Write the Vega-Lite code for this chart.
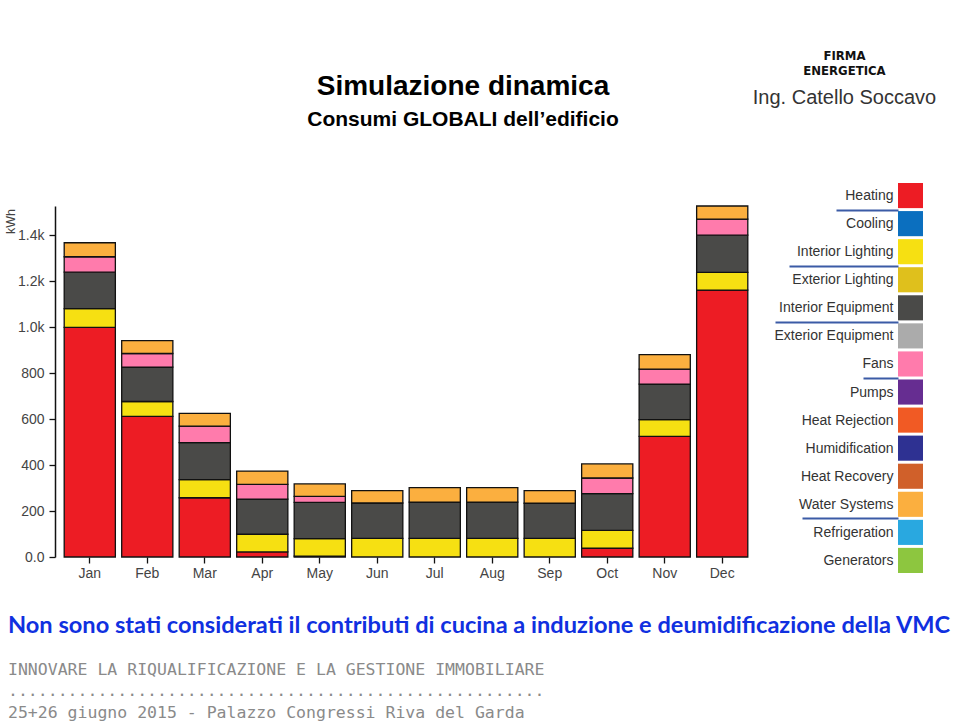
{
  "$schema": "https://vega.github.io/schema/vega-lite/v6.json",
  "background": "white",
  "padding": {"left": 4, "top": 50, "right": 5, "bottom": 5},
  "config": {
    "view": {"stroke": null},
    "font": "Liberation Sans",
    "axis": {"grid": false}
  },
  "title": {
    "text": "Non sono stati considerati il contributi di cucina a induzione e deumidificazione della VMC",
    "subtitle": ["INNOVARE LA RIQUALIFICAZIONE E LA GESTIONE IMMOBILIARE", "......................................................", "25+26 giugno 2015 - Palazzo Congressi Riva del Garda"],
    "orient": "bottom",
    "anchor": "start",
    "frame": "bounds",
    "dx": 4,
    "offset": 34,
    "font": "Lato",
    "fontSize": 23.6,
    "fontWeight": "bold",
    "color": "#1030E0",
    "subtitleFont": "DejaVu Sans Mono",
    "subtitleFontSize": 16.5,
    "subtitleColor": "#8a8a8a",
    "subtitleLineHeight": 21.5,
    "subtitlePadding": 24
  },
  "datasets": {
    "energy": [
      {"month": "Jan", "category": "Heating", "kwh": 1000},
      {"month": "Jan", "category": "Interior Lighting", "kwh": 81},
      {"month": "Jan", "category": "Interior Equipment", "kwh": 159},
      {"month": "Jan", "category": "Fans", "kwh": 67},
      {"month": "Jan", "category": "Water Systems", "kwh": 61},
      {"month": "Feb", "category": "Heating", "kwh": 612},
      {"month": "Feb", "category": "Interior Lighting", "kwh": 65},
      {"month": "Feb", "category": "Interior Equipment", "kwh": 150},
      {"month": "Feb", "category": "Fans", "kwh": 59},
      {"month": "Feb", "category": "Water Systems", "kwh": 56},
      {"month": "Mar", "category": "Heating", "kwh": 258},
      {"month": "Mar", "category": "Interior Lighting", "kwh": 79},
      {"month": "Mar", "category": "Interior Equipment", "kwh": 161},
      {"month": "Mar", "category": "Fans", "kwh": 72},
      {"month": "Mar", "category": "Water Systems", "kwh": 55},
      {"month": "Apr", "category": "Heating", "kwh": 22},
      {"month": "Apr", "category": "Interior Lighting", "kwh": 77},
      {"month": "Apr", "category": "Interior Equipment", "kwh": 153},
      {"month": "Apr", "category": "Fans", "kwh": 64},
      {"month": "Apr", "category": "Water Systems", "kwh": 58},
      {"month": "May", "category": "Heating", "kwh": 4},
      {"month": "May", "category": "Interior Lighting", "kwh": 76},
      {"month": "May", "category": "Interior Equipment", "kwh": 158},
      {"month": "May", "category": "Fans", "kwh": 26},
      {"month": "May", "category": "Water Systems", "kwh": 54},
      {"month": "Jun", "category": "Interior Lighting", "kwh": 81},
      {"month": "Jun", "category": "Interior Equipment", "kwh": 154},
      {"month": "Jun", "category": "Water Systems", "kwh": 54},
      {"month": "Jul", "category": "Interior Lighting", "kwh": 81},
      {"month": "Jul", "category": "Interior Equipment", "kwh": 158},
      {"month": "Jul", "category": "Water Systems", "kwh": 63},
      {"month": "Aug", "category": "Interior Lighting", "kwh": 81},
      {"month": "Aug", "category": "Interior Equipment", "kwh": 158},
      {"month": "Aug", "category": "Water Systems", "kwh": 63},
      {"month": "Sep", "category": "Interior Lighting", "kwh": 81},
      {"month": "Sep", "category": "Interior Equipment", "kwh": 153},
      {"month": "Sep", "category": "Water Systems", "kwh": 55},
      {"month": "Oct", "category": "Heating", "kwh": 38},
      {"month": "Oct", "category": "Interior Lighting", "kwh": 78},
      {"month": "Oct", "category": "Interior Equipment", "kwh": 160},
      {"month": "Oct", "category": "Fans", "kwh": 68},
      {"month": "Oct", "category": "Water Systems", "kwh": 61},
      {"month": "Nov", "category": "Heating", "kwh": 525},
      {"month": "Nov", "category": "Interior Lighting", "kwh": 73},
      {"month": "Nov", "category": "Interior Equipment", "kwh": 155},
      {"month": "Nov", "category": "Fans", "kwh": 65},
      {"month": "Nov", "category": "Water Systems", "kwh": 63},
      {"month": "Dec", "category": "Heating", "kwh": 1162},
      {"month": "Dec", "category": "Interior Lighting", "kwh": 77},
      {"month": "Dec", "category": "Interior Equipment", "kwh": 162},
      {"month": "Dec", "category": "Fans", "kwh": 70},
      {"month": "Dec", "category": "Water Systems", "kwh": 57}
    ],
    "cats": [
      {"category": "Heating"},
      {"category": "Cooling"},
      {"category": "Interior Lighting"},
      {"category": "Exterior Lighting"},
      {"category": "Interior Equipment"},
      {"category": "Exterior Equipment"},
      {"category": "Fans"},
      {"category": "Pumps"},
      {"category": "Heat Rejection"},
      {"category": "Humidification"},
      {"category": "Heat Recovery"},
      {"category": "Water Systems"},
      {"category": "Refrigeration"},
      {"category": "Generators"}
    ]
  },
  "spacing": -5,
  "hconcat": [
    {
      "width": 702,
      "height": 374,
      "title": {
        "text": "Simulazione dinamica",
        "subtitle": "Consumi GLOBALI dell’edificio",
        "anchor": "middle",
        "frame": "group",
        "dx": 57,
        "offset": 53,
        "font": "Liberation Sans",
        "fontSize": 28,
        "fontWeight": "bold",
        "color": "#000000",
        "subtitleFont": "Liberation Sans",
        "subtitleFontSize": 21,
        "subtitleFontWeight": "bold",
        "subtitleColor": "#000000",
        "subtitlePadding": 8
      },
      "data": {"name": "energy"},
      "transform": [
        {"calculate": "indexof(['Heating','Cooling','Interior Lighting','Exterior Lighting','Interior Equipment','Exterior Equipment','Fans','Pumps','Heat Rejection','Humidification','Heat Recovery','Water Systems','Refrigeration','Generators'], datum.category)", "as": "ord"}
      ],
      "mark": {"type": "bar", "stroke": "#111111", "strokeWidth": 1.3},
      "encoding": {
        "x": {
          "field": "month",
          "type": "nominal",
          "sort": null,
          "scale": {"paddingInner": 0.11, "paddingOuter": 0.16},
          "axis": {
            "title": null,
            "labelAngle": 0,
            "domain": false,
            "tickSize": 6,
            "tickColor": "#111111",
            "tickWidth": 1.3,
            "labelPadding": 3,
            "labelFontSize": 14,
            "labelColor": "#444444"
          }
        },
        "y": {
          "field": "kwh",
          "type": "quantitative",
          "stack": "zero",
          "scale": {"domain": [0, 1528], "range": [374, 23], "nice": false, "zero": true},
          "axis": {
            "values": [0, 200, 400, 600, 800, 1000, 1200, 1400],
            "labelExpr": "datum.value == 0 ? '0.0' : (datum.value >= 1000 ? format(datum.value / 1000, '.1f') + 'k' : format(datum.value, 'd'))",
            "title": "kWh",
            "titleFontSize": 12.5,
            "titleFontWeight": "normal",
            "titleColor": "#444444",
            "titleAngle": 270,
            "titleAlign": "center",
            "titleBaseline": "bottom",
            "titleX": -38,
            "titleY": 38,
            "domainColor": "#111111",
            "domainWidth": 1.5,
            "tickColor": "#111111",
            "tickWidth": 1.3,
            "tickSize": 6,
            "labelPadding": 5,
            "labelFontSize": 14,
            "labelColor": "#444444"
          }
        },
        "color": {
          "field": "category",
          "type": "nominal",
          "scale": {
            "domain": ["Heating", "Cooling", "Interior Lighting", "Exterior Lighting", "Interior Equipment", "Exterior Equipment", "Fans", "Pumps", "Heat Rejection", "Humidification", "Heat Recovery", "Water Systems", "Refrigeration", "Generators"],
            "range": ["#ED1C24", "#0B6FBF", "#F6E012", "#DFC01C", "#4A4A48", "#ABABAB", "#FF7BAC", "#662D91", "#F15A24", "#2E3192", "#D0602A", "#FBAF3F", "#29A8E0", "#8DC63F"]
          },
          "legend": null
        },
        "order": {"field": "ord", "type": "quantitative", "sort": "ascending"}
      }
    },
    {
      "width": 25,
      "height": 390,
      "title": {
        "text": ["FIRMA", "ENERGETICA"],
        "subtitle": "Ing. Catello Soccavo",
        "anchor": "middle",
        "frame": "group",
        "dx": -66,
        "offset": 75,
        "font": "DejaVu Sans Condensed",
        "fontSize": 13,
        "fontWeight": "bold",
        "lineHeight": 15,
        "color": "#111111",
        "subtitleFont": "Liberation Sans",
        "subtitleFontSize": 20,
        "subtitleColor": "#333333",
        "subtitlePadding": 10
      },
      "data": {"name": "cats"},
      "mark": {"type": "rect"},
      "encoding": {
        "y": {
          "field": "category",
          "type": "nominal",
          "sort": null,
          "scale": {"paddingInner": 0.105, "paddingOuter": 0},
          "axis": {
            "title": null,
            "domain": false,
            "ticks": true,
            "tickColor": "#3B5BA6",
            "tickWidth": 2,
            "tickOffset": 14,
            "labelOffset": -14,
            "tickSize": {"expr": "datum.value === 'Heating' ? 62 : datum.value === 'Interior Lighting' ? 109 : datum.value === 'Interior Equipment' ? 123 : datum.value === 'Fans' ? 35 : datum.value === 'Water Systems' ? 96 : 0"},
            "labelPadding": {"expr": "datum.value === 'Heating' ? -57 : datum.value === 'Interior Lighting' ? -104 : datum.value === 'Interior Equipment' ? -118 : datum.value === 'Fans' ? -30 : datum.value === 'Water Systems' ? -91 : 5"},
            "labelFontSize": 14,
            "labelColor": "#333333",
            "labelLimit": 0
          }
        },
        "color": {
          "field": "category",
          "type": "nominal",
          "scale": {
            "domain": ["Heating", "Cooling", "Interior Lighting", "Exterior Lighting", "Interior Equipment", "Exterior Equipment", "Fans", "Pumps", "Heat Rejection", "Humidification", "Heat Recovery", "Water Systems", "Refrigeration", "Generators"],
            "range": ["#ED1C24", "#0B6FBF", "#F6E012", "#DFC01C", "#4A4A48", "#ABABAB", "#FF7BAC", "#662D91", "#F15A24", "#2E3192", "#D0602A", "#FBAF3F", "#29A8E0", "#8DC63F"]
          },
          "legend": null
        }
      }
    }
  ]
}
